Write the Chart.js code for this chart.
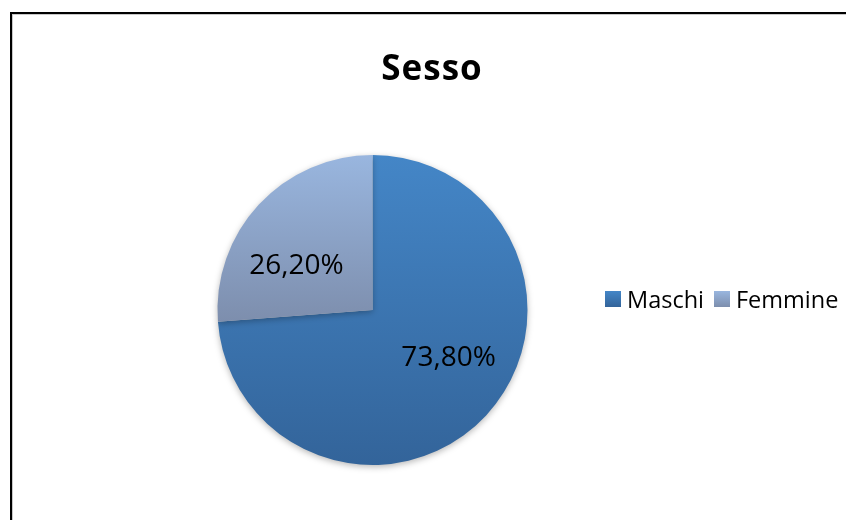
<!DOCTYPE html>
<html>
<head>
<meta charset="utf-8">
<script src="https://cdn.jsdelivr.net/npm/chart.js@4/dist/chart.umd.min.js"></script>
<style>
  html, body { margin: 0; padding: 0; background: #fff; overflow: hidden; }
  #frame {
    position: absolute; left: 10px; top: 12px; width: 900px; height: 600px;
    border: 2px solid #000; box-shadow: inset 1px 1px 0 #c8c8c8;
  }
  #sessoChart { position: absolute; left: 0; top: 0; }
</style>
</head>
<body>
<div id="frame"></div>
<canvas id="sessoChart" width="846" height="520"></canvas>
<script>
const chartTitle = 'Sesso';
const labels = ['Maschi', 'Femmine'];
const values = [73.8, 26.2];

// gradient ends per slice (top -> bottom), Excel style
const topColors = ['#4486c7', '#99b6df'];
const bottomColors = ['#33649a', '#7d8ead'];

const FONT = '"Open Sans", Lato, sans-serif';

function fmtPct(v) {
  return v.toFixed(2).replace('.', ',') + '%';
}

// vertical gradient spanning the slice's own bounding box
function sliceGradient(context) {
  const i = context.dataIndex;
  const chart = context.chart;
  const area = chart.chartArea;
  if (!area) return bottomColors[i];
  const data = context.dataset.data;
  const total = data.reduce((a, b) => a + b, 0);
  const before = data.slice(0, i).reduce((a, b) => a + b, 0);
  const cx = (area.left + area.right) / 2;
  const cy = (area.top + area.bottom) / 2;
  const r = Math.min(area.width, area.height) / 2;
  const a0 = -Math.PI / 2 + 2 * Math.PI * before / total;
  const a1 = a0 + 2 * Math.PI * data[i] / total;
  const ys = [cy, cy + r * Math.sin(a0), cy + r * Math.sin(a1)];
  const contains = a => {
    for (let k = -1; k <= 2; k++) {
      const t = a + 2 * Math.PI * k;
      if (t >= a0 - 1e-9 && t <= a1 + 1e-9) return true;
    }
    return false;
  };
  if (contains(-Math.PI / 2)) ys.push(cy - r);
  if (contains(Math.PI / 2)) ys.push(cy + r);
  const g = chart.ctx.createLinearGradient(0, Math.min(...ys), 0, Math.max(...ys));
  g.addColorStop(0, topColors[i]);
  g.addColorStop(1, bottomColors[i]);
  return g;
}

const decorPlugin = {
  id: 'decor',
  beforeDatasetsDraw(chart) {
    const ctx = chart.ctx;
    ctx.save();
    ctx.shadowColor = 'rgba(0,0,0,0.28)';
    ctx.shadowBlur = 6;
    ctx.shadowOffsetY = 2;
  },
  afterDatasetsDraw(chart) {
    const ctx = chart.ctx;
    ctx.restore();

    // data labels, placed from the arc elements
    const meta = chart.getDatasetMeta(0);
    ctx.save();
    ctx.fillStyle = '#000';
    ctx.font = '28px ' + FONT;
    ctx.textAlign = 'center';
    ctx.textBaseline = 'alphabetic';
    meta.data.forEach((arc, i) => {
      const p = arc.getProps(['x', 'y', 'startAngle', 'endAngle', 'outerRadius'], true);
      const mid = (p.startAngle + p.endAngle) / 2 - 0.2;
      const d = p.outerRadius * 0.575;
      const x = p.x + Math.cos(mid) * d;
      const y = p.y + Math.sin(mid) * d;
      ctx.fillText(fmtPct(chart.data.datasets[0].data[i]), x, y + 10);
    });
    ctx.restore();
  },
  afterDraw(chart) {
    const ctx = chart.ctx;
    const area = chart.chartArea;
    ctx.save();
    // title
    ctx.fillStyle = '#000';
    ctx.font = 'bold 35px ' + FONT;
    ctx.letterSpacing = '1px';
    ctx.textAlign = 'center';
    ctx.textBaseline = 'alphabetic';
    ctx.fillText(chartTitle, 432, 80);
    ctx.letterSpacing = '0px';

    // legend, one row at the right
    ctx.font = '23.5px ' + FONT;
    ctx.textAlign = 'left';
    let x = area.right + 77;
    const yMid = (area.top + area.bottom) / 2 - 11;
    chart.data.labels.forEach((lab, i) => {
      const g = ctx.createLinearGradient(0, yMid - 8, 0, yMid + 8);
      g.addColorStop(0, topColors[i]);
      g.addColorStop(1, bottomColors[i]);
      ctx.fillStyle = g;
      ctx.fillRect(x, yMid - 8, 16, 16);
      ctx.fillStyle = '#000';
      ctx.fillText(lab, x + 22, yMid + 8.5);
      x += 22 + ctx.measureText(lab).width + 10;
    });
    ctx.restore();
  }
};

new Chart(document.getElementById('sessoChart'), {
  type: 'pie',
  data: {
    labels: labels,
    datasets: [{
      data: values,
      backgroundColor: sliceGradient,
      borderWidth: 0
    }]
  },
  options: {
    responsive: false,
    animation: false,
    layout: { padding: { top: 155, bottom: 55, left: 217, right: 318 } },
    plugins: {
      legend: { display: false },
      title: { display: false },
      tooltip: { enabled: false }
    }
  },
  plugins: [decorPlugin]
});
</script>
</body>
</html>
